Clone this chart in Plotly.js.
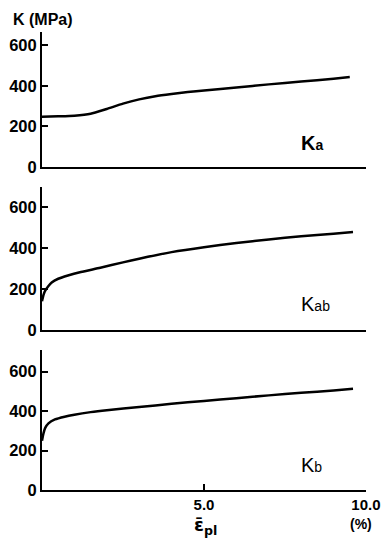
<!DOCTYPE html>
<html><head><meta charset="utf-8">
<script src="https://cdn.plot.ly/plotly-3.0.1.min.js"></script>
<style>html,body{margin:0;padding:0;background:#fff;}</style>
</head><body><div id="chart" style="width:382px;height:539px;"></div>
<script>
// strain (%) and K (MPa)
const xKa  = [0, 0.5, 1.0, 1.5, 2.0, 2.5, 3.0, 3.5, 4.0, 4.5, 5.0, 6.0, 7.0, 8.0, 9.0, 9.5];
const yKa  = [248, 250, 253, 262, 286, 312, 333, 349, 360, 369, 377, 392, 407, 421, 435, 443];
const xKab = [0, 0.05, 0.1, 0.2, 0.3, 0.5, 0.8, 1.2, 1.8, 2.5, 3.0, 4.0, 5.0, 6.0, 7.0, 8.0, 9.0, 9.6];
const yKab = [140, 172, 192, 215, 232, 250, 266, 283, 304, 330, 348, 380, 404, 424, 442, 457, 470, 478];
const xKb  = [0, 0.05, 0.1, 0.2, 0.4, 0.7, 1.0, 1.5, 2.0, 3.0, 4.0, 5.0, 6.0, 7.0, 8.0, 9.0, 9.6];
const yKb  = [250, 290, 315, 338, 358, 372, 382, 395, 405, 421, 437, 452, 466, 480, 493, 505, 513];
const yTicks = [0, 200, 400, 600];
const xTickVals = [5, 10];
const xTickText = ["5.0", "10.0"];
const panelLabels = ["K<span style='font-size:14px'>a</span>", "K<span style='font-size:14px'>ab</span>", "K<span style='font-size:14px'>b</span>"];

const lineStyle = {color: '#000', width: 2.5, shape: 'spline', smoothing: 0.6};
const traces = [
  {x: xKa, y: yKa, xaxis: 'x', yaxis: 'y', mode: 'lines', line: lineStyle},
  {x: xKab, y: yKab, xaxis: 'x2', yaxis: 'y2', mode: 'lines', line: lineStyle},
  {x: xKb, y: yKb, xaxis: 'x3', yaxis: 'y3', mode: 'lines', line: lineStyle}
];
const tf = {family: 'Liberation Sans, Arial, sans-serif', size: 16.5, color: '#000', weight: 'bold'};
const txf = {family: 'Liberation Sans Narrow, Liberation Sans, Arial, sans-serif', size: 15, color: '#000', weight: 'bold'};
const xd = [0.1099, 0.958];
function xa(anchor, showTicks) {
  const a = {domain: xd, anchor: anchor, range: [0, 10], showline: true, linecolor: '#000', linewidth: 2,
    showgrid: false, zeroline: false, ticks: showTicks ? 'inside' : '', ticklen: 6, tickwidth: 2, tickcolor: '#000',
    showticklabels: showTicks, tickfont: txf};
  if (showTicks) { a.tickvals = xTickVals; a.ticktext = xTickText; } else { a.tickvals = []; }
  return a;
}
function ya(anchor, dom, top) {
  return {domain: dom, anchor: anchor, range: [0, top], showline: true, linecolor: '#000', linewidth: 2,
    showgrid: false, zeroline: false, ticks: 'inside', ticklen: 6, tickwidth: 2, tickcolor: '#000',
    tickvals: yTicks, tickfont: tf, ticklabelstandoff: 0};
}
const layout = {
  width: 382, height: 539, margin: {l: 0, r: 0, t: 0, b: 0},
  paper_bgcolor: '#fff', plot_bgcolor: '#fff', showlegend: false,
  xaxis: xa('y', false), xaxis2: xa('y2', false), xaxis3: xa('y3', true),
  yaxis: ya('x', [0.6902, 0.9406], 665),
  yaxis2: ya('x2', [0.3878, 0.6531], 698),
  yaxis3: ya('x3', [0.0909, 0.3506], 710),
  annotations: [
    {text: 'K (MPa)', xref: 'paper', yref: 'paper', x: 11/382, y: 1 - 20/539, xanchor: 'left', yanchor: 'middle', showarrow: false, font: {family: 'Liberation Sans, Arial, sans-serif', size: 16, weight: 'bold', color: '#000'}},
    {text: panelLabels[0], xref: 'paper', yref: 'paper', x: 299/382, y: 1 - 143/539, xanchor: 'left', yanchor: 'middle', showarrow: false, font: {family: 'Liberation Sans, Arial, sans-serif', size: 20, weight: 'bold', color: '#000'}},
    {text: panelLabels[1], xref: 'paper', yref: 'paper', x: 299/382, y: 1 - 304/539, xanchor: 'left', yanchor: 'middle', showarrow: false, font: {family: 'Liberation Sans, Arial, sans-serif', size: 20, color: '#000'}},
    {text: panelLabels[2], xref: 'paper', yref: 'paper', x: 299/382, y: 1 - 465/539, xanchor: 'left', yanchor: 'middle', showarrow: false, font: {family: 'Liberation Sans, Arial, sans-serif', size: 20, color: '#000'}},
    {text: 'ε\u0304<sub>pl</sub>', xref: 'paper', yref: 'paper', x: 206/382, y: 1 - 526/539, xanchor: 'center', yanchor: 'middle', showarrow: false, font: {family: 'DejaVu Sans, sans-serif', size: 18, weight: 'bold', color: '#000'}},
    {text: '(%)', xref: 'paper', yref: 'paper', x: 361/382, y: 1 - 524/539, xanchor: 'center', yanchor: 'middle', showarrow: false, font: {family: 'Liberation Sans, Arial, sans-serif', size: 14, weight: 'bold', color: '#000'}}
  ]
};
Plotly.newPlot('chart', traces, layout, {displayModeBar: false, staticPlot: true});
</script></body></html>
